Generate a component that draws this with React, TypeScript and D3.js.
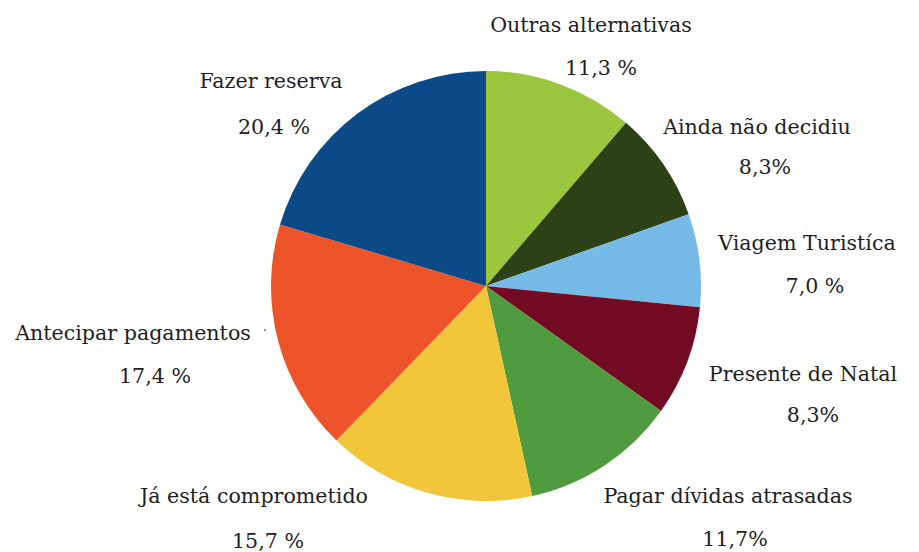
import React from "react";
import * as d3 from "d3";

const categories = [
  "Outras alternativas",
  "Ainda não decidiu",
  "Viagem Turistíca",
  "Presente de Natal",
  "Pagar dívidas atrasadas",
  "Já está comprometido",
  "Antecipar pagamentos",
  "Fazer reserva",
];
const values = [11.3, 8.3, 7.0, 8.3, 11.7, 15.7, 17.4, 20.4];
const percentLabels = ["11,3 %", "8,3%", "7,0 %", "8,3%", "11,7%", "15,7 %", "17,4 %", "20,4 %"];
const colors = ["#9cc63e", "#2c4216", "#76bae8", "#730b24", "#509b3f", "#f2c63b", "#ee5429", "#0b4a86"];

// label layout: [nameX, nameY, pctX, pctY] (text centers / baselines)
const labelLayout = [
  [591, 32, 601, 75],
  [757, 134, 765, 174],
  [807, 250, 815, 293],
  [803, 381, 813, 422],
  [728, 503, 735, 546],
  [254, 503, 268, 548],
  [133, 340, 155, 383],
  [271, 88, 274, 134],
];

const W = 919;
const H = 552;
const cx = 486;
const cy = 286;
const R = 215;

export default function App() {
  const pie = d3.pie<number>().sort(null).value((d) => d)(values);
  const arc = d3.arc<d3.PieArcDatum<number>>().innerRadius(0).outerRadius(R);
  return (
    <svg width={W} height={H} style={{ position: "absolute", left: 0, top: 0, background: "#fff" }}>
      <g transform={`translate(${cx},${cy})`}>
        {pie.map((p, i) => (
          <path key={i} d={arc(p) || ""} fill={colors[i]} />
        ))}
      </g>
      <circle cx={265} cy={330} r={1.2} fill="#6a9fd0" />
      {categories.map((c, i) => (
        <g key={c} style={{ fontFamily: "DejaVu Serif, serif", fontSize: "20.6px" }} fill="#1e1e1e" textAnchor="middle">
          <text x={labelLayout[i][0]} y={labelLayout[i][1]}>{c}</text>
          <text x={labelLayout[i][2]} y={labelLayout[i][3]}>{percentLabels[i]}</text>
        </g>
      ))}
    </svg>
  );
}
